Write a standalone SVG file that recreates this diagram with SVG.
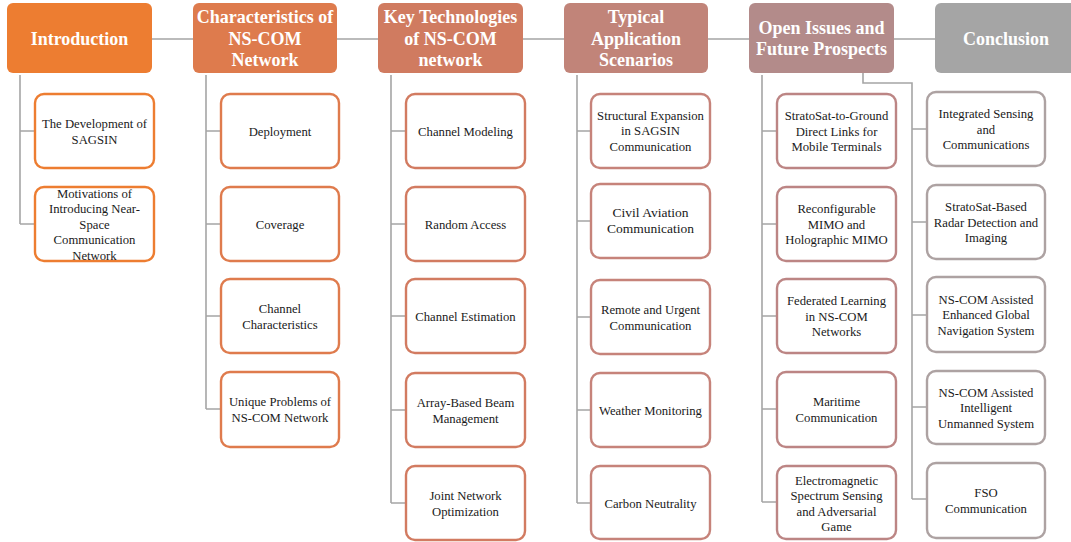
<svg xmlns="http://www.w3.org/2000/svg" width="1071" height="542" viewBox="0 0 1071 542">
<style>
.hd text{font-family:"Liberation Serif","Times New Roman",serif;font-weight:bold;font-size:18px;fill:#fff;text-anchor:middle}
.ch text{font-family:"Liberation Serif","Times New Roman",serif;font-size:12.7px;fill:#1a1a1a;text-anchor:middle}
.ch rect{fill:#fff;stroke-width:2.4}
.conn path{fill:none;stroke:#a5a5a5;stroke-width:1.6}
.c1 rect{stroke:#ED7D31}
.c2 rect{stroke:#DF7B4D}
.c3 rect{stroke:#D27B61}
.c4 rect{stroke:#C6837A}
.c5 rect{stroke:#BC8584}
.c6 rect{stroke:#ADA2A2}
</style>
<rect width="1071" height="542" fill="#fff"/>
<g id="connectors" class="conn">
<path d="M152,39H935"/>
<path d="M20,75V224M20,131H35M20,224H35"/>
<path d="M206,75V409M206,131H221M206,224H221M206,316H221M206,409H221"/>
<path d="M391,75V503M391,131H406M391,224H406M391,316H406M391,410H406M391,503H406"/>
<path d="M577,75V503M577,131H591M577,221H591M577,317H591M577,410H591M577,503H591"/>
<path d="M762,75V502M762,131H777M762,224H777M762,316H777M762,409H777M762,502H777"/>
<path d="M863,73V83H912V499M912,129H927M912,222H927M912,315H927M912,407H927M912,499H927"/>
</g>
<g id="h-intro" class="hd"><rect x="7" y="3" width="145" height="70" rx="6" fill="#ED7D31"/><text x="79.5" y="45">Introduction</text></g>
<g id="h-char" class="hd"><rect x="193" y="3" width="144" height="70" rx="6" fill="#DE7B4D"/><text x="265" y="23">Characteristics of</text><text x="265" y="45">NS-COM</text><text x="265" y="66">Network</text></g>
<g id="h-key" class="hd"><rect x="378" y="3" width="145" height="70" rx="6" fill="#D07B60"/><text x="450.5" y="23">Key Technologies</text><text x="450.5" y="45">of NS-COM</text><text x="450.5" y="66">network</text></g>
<g id="h-typ" class="hd"><rect x="564" y="3" width="144" height="70" rx="6" fill="#C18479"/><text x="636" y="23">Typical</text><text x="636" y="45">Application</text><text x="636" y="66">Scenarios</text></g>
<g id="h-open" class="hd"><rect x="749" y="3" width="145" height="70" rx="6" fill="#B38B8A"/><text x="821.5" y="34">Open Issues and</text><text x="821.5" y="55">Future Prospects</text></g>
<g id="h-concl" class="hd"><rect x="935" y="3" width="142" height="70" rx="6" fill="#A5A5A5"/><text x="1006" y="45">Conclusion</text></g>

<g id="n-intro-1" class="ch c1"><rect x="35" y="94" width="119" height="74" rx="9"/><text x="94.5" y="128">The Development of</text><text x="94.5" y="143.5">SAGSIN</text></g>
<g id="n-intro-2" class="ch c1"><rect x="35" y="187" width="119" height="74" rx="9"/><text x="94.5" y="197.5">Motivations of</text><text x="94.5" y="213">Introducing Near-</text><text x="94.5" y="228.5">Space</text><text x="94.5" y="244">Communication</text><text x="94.5" y="259.5">Network</text></g>

<g id="n-char-1" class="ch c2"><rect x="221" y="94" width="118" height="74" rx="9"/><text x="280" y="135.5">Deployment</text></g>
<g id="n-char-2" class="ch c2"><rect x="221" y="187" width="118" height="74" rx="9"/><text x="280" y="228.5">Coverage</text></g>
<g id="n-char-3" class="ch c2"><rect x="221" y="279" width="118" height="74" rx="9"/><text x="280" y="313">Channel</text><text x="280" y="328.5">Characteristics</text></g>
<g id="n-char-4" class="ch c2"><rect x="221" y="372" width="118" height="75" rx="9"/><text x="280" y="406">Unique Problems of</text><text x="280" y="421.5">NS-COM Network</text></g>

<g id="n-key-1" class="ch c3"><rect x="406" y="94" width="119" height="74" rx="9"/><text x="465.5" y="135.5">Channel Modeling</text></g>
<g id="n-key-2" class="ch c3"><rect x="406" y="187" width="119" height="74" rx="9"/><text x="465.5" y="228.5">Random Access</text></g>
<g id="n-key-3" class="ch c3"><rect x="406" y="279" width="119" height="74" rx="9"/><text x="465.5" y="321">Channel Estimation</text></g>
<g id="n-key-4" class="ch c3"><rect x="406" y="373" width="119" height="74" rx="9"/><text x="465.5" y="407">Array-Based Beam</text><text x="465.5" y="422.5">Management</text></g>
<g id="n-key-5" class="ch c3"><rect x="406" y="466" width="119" height="74" rx="9"/><text x="465.5" y="500">Joint Network</text><text x="465.5" y="515.5">Optimization</text></g>

<g id="n-typ-1" class="ch c4"><rect x="591" y="94" width="119" height="74" rx="9"/><text x="650.5" y="119.5">Structural Expansion</text><text x="650.5" y="135">in SAGSIN</text><text x="650.5" y="150.5">Communication</text></g>
<g id="n-typ-2" class="ch c4"><rect x="591" y="184" width="119" height="74" rx="9"/><text x="650.5" y="216.5" style="font-size:13.5px">Civil Aviation</text><text x="650.5" y="233" style="font-size:13.5px">Communication</text></g>
<g id="n-typ-3" class="ch c4"><rect x="591" y="280" width="119" height="74" rx="9"/><text x="650.5" y="314">Remote and Urgent</text><text x="650.5" y="329.5">Communication</text></g>
<g id="n-typ-4" class="ch c4"><rect x="591" y="373" width="119" height="74" rx="9"/><text x="650.5" y="414.5">Weather Monitoring</text></g>
<g id="n-typ-5" class="ch c4"><rect x="591" y="466" width="119" height="73" rx="9"/><text x="650.5" y="507.5">Carbon Neutrality</text></g>

<g id="n-open-1" class="ch c5"><rect x="777" y="94" width="119" height="74" rx="9"/><text x="836.5" y="120">StratoSat-to-Ground</text><text x="836.5" y="135.5">Direct Links for</text><text x="836.5" y="151">Mobile Terminals</text></g>
<g id="n-open-2" class="ch c5"><rect x="777" y="187" width="119" height="74" rx="9"/><text x="836.5" y="213">Reconfigurable</text><text x="836.5" y="228.5">MIMO and</text><text x="836.5" y="244">Holographic MIMO</text></g>
<g id="n-open-3" class="ch c5"><rect x="777" y="279" width="119" height="74" rx="9"/><text x="836.5" y="305">Federated Learning</text><text x="836.5" y="320.5">in NS-COM</text><text x="836.5" y="336">Networks</text></g>
<g id="n-open-4" class="ch c5"><rect x="777" y="372" width="119" height="75" rx="9"/><text x="836.5" y="406">Maritime</text><text x="836.5" y="421.5">Communication</text></g>
<g id="n-open-5" class="ch c5"><rect x="777" y="466" width="119" height="73" rx="9"/><text x="836.5" y="484.5">Electromagnetic</text><text x="836.5" y="500">Spectrum Sensing</text><text x="836.5" y="515.5">and Adversarial</text><text x="836.5" y="531">Game</text></g>

<g id="n-concl-1" class="ch c6"><rect x="927" y="92" width="118" height="74" rx="9"/><text x="986" y="118">Integrated Sensing</text><text x="986" y="133.5">and</text><text x="986" y="149">Communications</text></g>
<g id="n-concl-2" class="ch c6"><rect x="927" y="185" width="118" height="74" rx="9"/><text x="986" y="211">StratoSat-Based</text><text x="986" y="226.5">Radar Detection and</text><text x="986" y="242">Imaging</text></g>
<g id="n-concl-3" class="ch c6"><rect x="927" y="277" width="118" height="75" rx="9"/><text x="986" y="303.5">NS-COM Assisted</text><text x="986" y="319">Enhanced Global</text><text x="986" y="334.5">Navigation System</text></g>
<g id="n-concl-4" class="ch c6"><rect x="927" y="371" width="118" height="73" rx="9"/><text x="986" y="396.5">NS-COM Assisted</text><text x="986" y="412">Intelligent</text><text x="986" y="427.5">Unmanned System</text></g>
<g id="n-concl-5" class="ch c6"><rect x="927" y="463" width="118" height="75" rx="9"/><text x="986" y="497">FSO</text><text x="986" y="512.5">Communication</text></g>
</svg>
